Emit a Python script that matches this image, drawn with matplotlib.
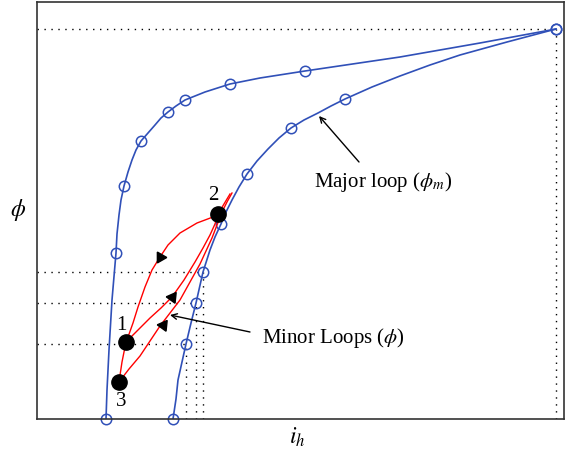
import matplotlib.pyplot as plt
import numpy as np

plt.rcParams['font.family'] = 'Liberation Serif'
plt.rcParams['mathtext.fontset'] = 'stix'

blue = '#3050b8'

# major loop, descending (upper) branch
upper_x = [519, 443, 363, 268, 223, 193, 168, 148, 139, 131, 124, 118, 111, 104, 99, 95, 91, 87, 84, 82, 80, 79, 75, 72, 70, 69]
upper_y = [390, 376, 362, 348, 341, 335, 327, 319, 313, 307, 301, 294, 286, 278, 269, 259, 247, 233, 219, 204, 185, 166, 119, 69, 29, 0]
upper_mx = [519, 268, 193, 148, 131, 104, 87, 79, 69]
upper_my = [390, 348, 335, 319, 307, 278, 233, 166, 0]

# major loop, ascending (lower) branch
lower_x = [136, 139, 141, 145, 149, 154, 159, 166, 173, 178, 184, 189, 195, 202, 210, 220, 231, 242, 254, 267, 281, 294, 308, 335, 363, 393, 423, 470, 519]
lower_y = [0, 20, 39, 57, 75, 96, 116, 147, 169, 182, 195, 207, 219, 232, 245, 258, 270, 281, 291, 299, 306, 313, 320, 332, 343, 354, 364, 377, 390]
lower_mx = [136, 149, 159, 166, 184, 210, 254, 308, 519]
lower_my = [0, 75, 116, 147, 195, 245, 291, 320, 390]

# reference points joined to the axes by dotted lines
ref_x = [149, 159, 166, 519]
ref_y = [75, 116, 147, 390]

# minor loops
desc_x = [181, 176, 160, 143, 131, 123, 115, 108, 101, 96, 91, 89, 85, 82]
desc_y = [205, 202, 196, 186, 174, 162, 149, 132, 112, 96, 82, 77, 57, 37]
asc1_x = [89, 101, 113, 124, 135, 147, 158, 166, 173, 178, 181, 187, 193]
asc1_y = [77, 89, 101, 111, 122, 139, 157, 171, 184, 195, 205, 215, 225]
asc3_x = [82, 92, 103, 113, 123, 133, 143, 153, 163, 169, 175, 180, 185, 190, 195]
asc3_y = [37, 50, 63, 78, 93, 106, 119, 137, 155, 168, 181, 194, 207, 217, 226]

pts_x = [89, 181, 82]
pts_y = [77, 205, 37]
pts_lab = ['1', '2', '3']
lab_x = [84, 176, 84]
lab_y = [93, 223, 17]

# direction arrows on the minor loops (position, rotation)
arr_x = [123, 135, 126]
arr_y = [162, 122, 94]
arr_rot = [150, -36, -36]

fig = plt.figure(figsize=(5.69, 4.53), dpi=100)
ax = fig.add_axes([37 / 569, 34 / 453, 527 / 569, 417 / 453])

for x, y in zip(ref_x, ref_y):
    ax.plot([0, x], [y, y], color='black', linestyle=(0, (1, 4)), linewidth=1)
    ax.plot([x, x], [0, y], color='black', linestyle=(0, (1, 4)), linewidth=1)

ax.plot(upper_x, upper_y, color=blue, linewidth=1.2)
ax.plot(lower_x, lower_y, color=blue, linewidth=1.2)
ax.plot(upper_mx, upper_my, 'o', mfc='none', mec=blue, ms=7.5, mew=1.1, clip_on=False)
ax.plot(lower_mx, lower_my, 'o', mfc='none', mec=blue, ms=7.5, mew=1.1, clip_on=False)

ax.plot(desc_x, desc_y, color='red', linewidth=1)
ax.plot(asc1_x, asc1_y, color='red', linewidth=1)
ax.plot(asc3_x, asc3_y, color='red', linewidth=1)

for x, y, r in zip(arr_x, arr_y, arr_rot):
    ax.plot(x, y, marker=(3, 0, r), color='black', ms=9)

ax.plot(pts_x, pts_y, 'o', color='black', ms=11)
for x, y, t in zip(lab_x, lab_y, pts_lab):
    ax.text(x, y, t, fontsize=15, ha='center', va='center')

arrow = dict(arrowstyle='->', color='black', lw=1, shrinkA=0, shrinkB=0)
ax.annotate('', xy=(282, 303), xytext=(322, 257), arrowprops=arrow)
ax.text(346, 237, r'Major loop ($\phi_m$)', fontsize=15, ha='center', va='center')
ax.annotate('', xy=(133, 104), xytext=(213, 87), arrowprops=arrow)
ax.text(296, 81, r'Minor Loops ($\phi$)', fontsize=15, ha='center', va='center')

ax.set_xlim(0, 527)
ax.set_ylim(0, 417)
ax.set_xticks([])
ax.set_yticks([])
for s in ax.spines.values():
    s.set_linewidth(1.2)
    s.set_color('#333333')

fig.text(18 / 569, 1 - 210 / 453, r'$\phi$', fontsize=17, ha='center', va='center')
fig.text(297 / 569, 1 - 437 / 453, r'$i_h$', fontsize=17, ha='center', va='center')

fig.savefig('out.png', dpi=100)
